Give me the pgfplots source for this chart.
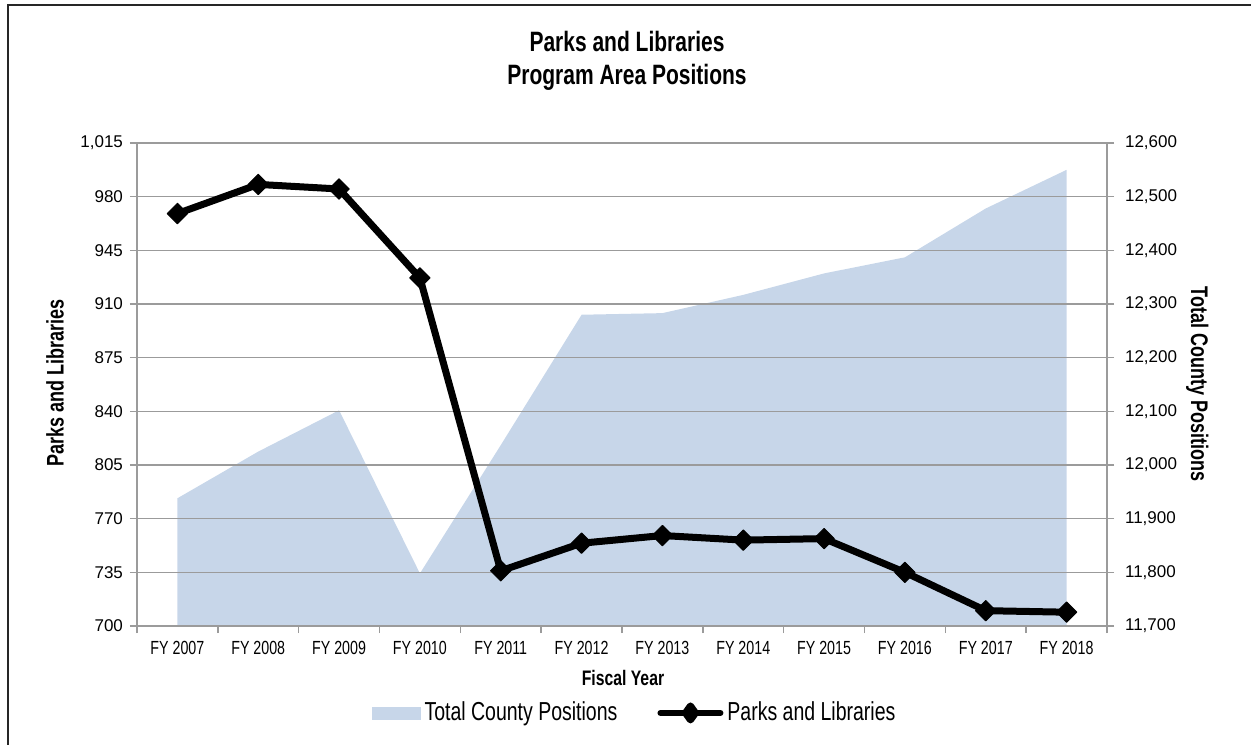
\documentclass[border=0pt]{standalone}
\usepackage{pgfplots}
\pgfplotsset{compat=1.18}
\usepackage{fontspec}
\setmainfont{Liberation Sans}[FakeStretch=0.75]
\newfontfamily\tickfont{Liberation Sans}
\definecolor{areablue}{RGB}{199,214,233}
\definecolor{gridgray}{RGB}{155,155,155}
\begin{document}
\begin{tikzpicture}
\useasboundingbox (0,0) rectangle (625.5pt,372pt);
\draw[line width=1.1pt,black!85] (4pt,-30pt) rectangle (640pt,369.5pt);
\node[align=center,font=\bfseries\fontsize{14}{16.5}\selectfont] at (313.5pt,341.5pt) {Parks and Libraries\\Program Area Positions};
% right axis: total county positions (area)
\begin{axis}[
  at={(68.5pt,59pt)}, anchor=south west,
  width=485pt, height=241.5pt, scale only axis,
  xmin=-0.5, xmax=11.5,
  ymin=11700, ymax=12600,
  axis x line=none,
  axis y line*=right,
  ytick={11700,11800,...,12600},
  scaled y ticks=false,
  /pgf/number format/1000 sep={,},
  /pgf/number format/assume math mode=true,
  yticklabel style={font=\tickfont\fontsize{8.5}{10}\selectfont, xshift=2pt},
  tick align=center, major tick length=7pt,
  axis line style={gridgray, line width=0.8pt},
  ytick style={gridgray, line width=0.8pt},
  ylabel={Total County Positions},
  ylabel style={font=\bfseries\fontsize{12}{14}\selectfont, rotate=180, at={(axis description cs:1.093,0.501)}, anchor=center},
]
\addplot[fill=areablue, draw=none] coordinates {
 (0,11938) (1,12025) (2,12102) (3,11798) (4,12037) (5,12280)
 (6,12283) (7,12317) (8,12357) (9,12387) (10,12478) (11,12550)
} \closedcycle;
\end{axis}
% left axis: parks and libraries
\begin{axis}[
  at={(68.5pt,59pt)}, anchor=south west,
  width=485pt, height=241.5pt, scale only axis,
  xmin=-0.5, xmax=11.5,
  ymin=700, ymax=1015,
  axis x line*=bottom,
  axis y line*=left,
  ytick={700,735,...,1015},
  xtick={-0.5,0.5,...,11.5},
  xticklabels={},
  extra x ticks={0,1,...,11},
  extra x tick labels={FY 2007,FY 2008,FY 2009,FY 2010,FY 2011,FY 2012,FY 2013,FY 2014,FY 2015,FY 2016,FY 2017,FY 2018},
  extra x tick style={grid=none, major tick length=0pt},
  xticklabel style={font=\fontsize{9.5}{11}\selectfont, yshift=-4pt},
  scaled y ticks=false,
  /pgf/number format/1000 sep={,},
  /pgf/number format/assume math mode=true,
  yticklabel style={font=\tickfont\fontsize{8.5}{10}\selectfont},
  tick align=outside, major tick length=3.5pt,
  ymajorgrids,
  grid style={gridgray, line width=0.8pt},
  axis line style={gridgray, line width=0.8pt},
  tick style={gridgray, line width=0.8pt},
  xlabel={Fiscal Year},
  xlabel style={font=\bfseries\fontsize{10.5}{12}\selectfont, at={(axis description cs:0.501,-0.1077)}, anchor=center},
  ylabel={Parks and Libraries},
  ylabel style={font=\bfseries\fontsize{12}{14}\selectfont, at={(axis description cs:-0.0845,0.504)}, anchor=center},
  legend columns=2,
  legend style={draw=none, fill=none, font=\fontsize{13}{15}\selectfont,
    at={(axis description cs:0.514,-0.180)}, anchor=center,
    /tikz/every even column/.append style={column sep=18pt}},
]
\addlegendimage{legend image code/.code={\fill[areablue] (-2pt,-3pt) rectangle (22pt,3pt);}}
\addlegendentry{Total County Positions}
\addplot[black, line width=3.5pt, line join=round, mark=square*, mark size=3.6pt, mark options={rotate=45, line width=0.5pt},
  legend image code/.code={\draw[black,line width=3pt,line cap=round] (-6pt,0pt) -- (24pt,0pt);
    \fill[black] (9pt,3.5pt) -- (11.5pt,0pt) -- (9pt,-3.5pt) -- (6.5pt,0pt) -- cycle;}]
coordinates {
 (0,969) (1,988) (2,985) (3,927) (4,736) (5,754)
 (6,759) (7,756) (8,757) (9,735) (10,710) (11,709)
};
\addlegendentry{Parks and Libraries}
\end{axis}
\end{tikzpicture}
\end{document}
